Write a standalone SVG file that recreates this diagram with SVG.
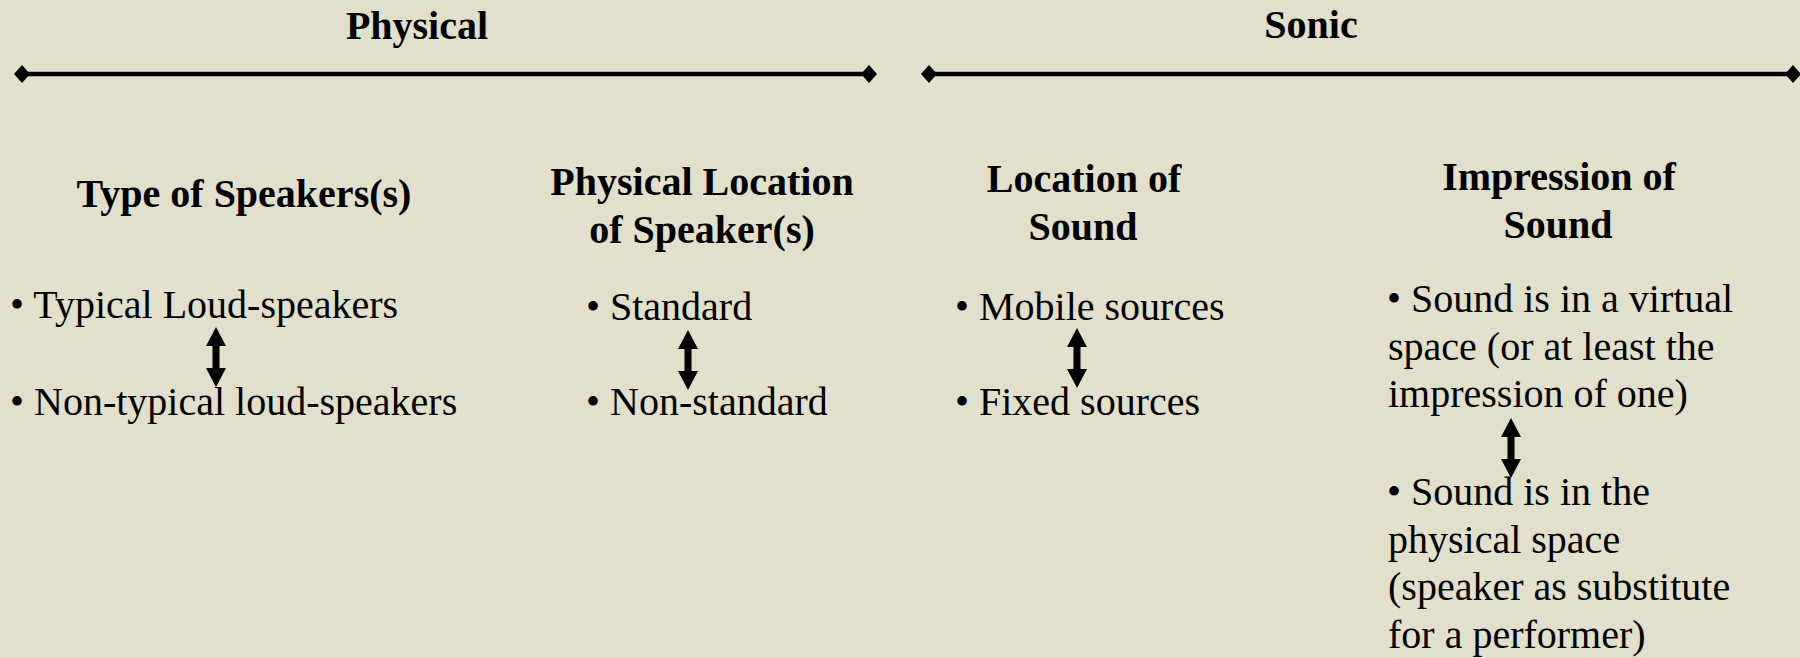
<svg xmlns="http://www.w3.org/2000/svg" xmlns:xlink="http://www.w3.org/1999/xlink" width="1800" height="658" viewBox="0 0 1800 658">
<style>
.t{font-family:"Liberation Serif","Times New Roman",serif;fill:#000;}
.h{font-size:40px;font-weight:bold;text-anchor:middle;}
.b{font-size:40px;}
.rule{stroke:#000;stroke-width:4.5;fill:none;}
.arr{fill:#000;}
</style>
<defs>
<marker id="dia" viewBox="-8 -9 16 18" markerWidth="16" markerHeight="18" markerUnits="userSpaceOnUse" refX="0" refY="0" orient="auto">
<path d="M-8,0 L0,-9 L8,0 L0,9 Z" fill="#000"/>
</marker>
<path id="dbl" d="M0,0 L10,19 L3.5,19 L3.5,41 L10,41 L0,60 L-10,41 L-3.5,41 L-3.5,19 L-10,19 Z"/>
</defs>
<rect width="1800" height="658" fill="#E2DFCB"/>
<g id="connectors">
<line class="rule" x1="22" y1="74" x2="869" y2="74" marker-start="url(#dia)" marker-end="url(#dia)"/>
<line class="rule" x1="929" y1="74" x2="1793" y2="74" marker-start="url(#dia)" marker-end="url(#dia)"/>
<use class="arr" xlink:href="#dbl" href="#dbl" x="216" y="327"/>
<use class="arr" xlink:href="#dbl" href="#dbl" x="688" y="330"/>
<use class="arr" xlink:href="#dbl" href="#dbl" x="1077" y="328"/>
<use class="arr" xlink:href="#dbl" href="#dbl" x="1511" y="418"/>
</g>
<g id="physical-title"><text class="t h" x="417" y="39">Physical</text></g>
<g id="sonic-title"><text class="t h" x="1311" y="38">Sonic</text></g>
<g id="type-of-speakers">
<text class="t h" x="244" y="207">Type of Speakers(s)</text>
<text class="t b" x="10" y="318">• Typical Loud-speakers</text>
<text class="t b" x="10" y="415">• Non-typical loud-speakers</text>
</g>
<g id="physical-location">
<text class="t h" x="702" y="195">Physical Location</text>
<text class="t h" x="702" y="243">of Speaker(s)</text>
<text class="t b" x="586" y="320">• Standard</text>
<text class="t b" x="586" y="415">• Non-standard</text>
</g>
<g id="location-of-sound">
<text class="t h" x="1084" y="192">Location of</text>
<text class="t h" x="1083" y="240">Sound</text>
<text class="t b" x="955" y="320">• Mobile sources</text>
<text class="t b" x="955" y="415">• Fixed sources</text>
</g>
<g id="impression-of-sound">
<text class="t h" x="1559" y="190">Impression of</text>
<text class="t h" x="1558" y="238">Sound</text>
<text class="t b" x="1387" y="312">• Sound is in a virtual</text>
<text class="t b" x="1388" y="360">space (or at least the</text>
<text class="t b" x="1388" y="407">impression of one)</text>
<text class="t b" x="1387" y="505">• Sound is in the</text>
<text class="t b" x="1388" y="553">physical space</text>
<text class="t b" x="1388" y="600">(speaker as substitute</text>
<text class="t b" x="1388" y="648">for a performer)</text>
</g>
</svg>
